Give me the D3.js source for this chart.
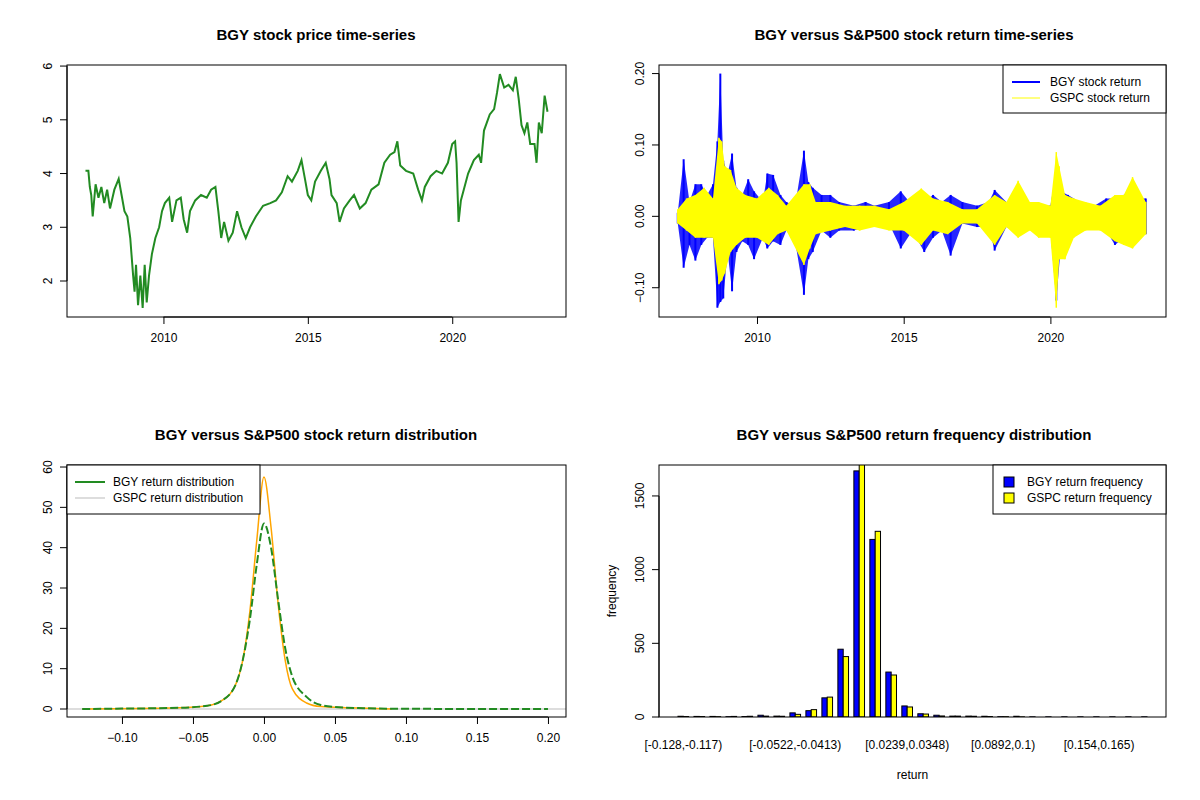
<!DOCTYPE html>
<html><head><meta charset="utf-8">
<script src="https://cdn.jsdelivr.net/npm/d3@7"></script>
<style>body{margin:0;background:#fff}svg text{font-family:"Liberation Sans",Arial,sans-serif}</style>
</head><body><svg id="c" width="1200" height="800"></svg>
<script>
// price series [year, price]
const priceData = [[2007.3,4.05],[2007.4,4.05],[2007.45,3.75],[2007.5,3.6],[2007.55,3.2],[2007.65,3.8],[2007.75,3.55],[2007.85,3.75],[2007.95,3.45],[2008.05,3.7],[2008.15,3.35],[2008.3,3.7],[2008.45,3.9],[2008.55,3.6],[2008.65,3.3],[2008.75,3.2],[2008.85,2.8],[2008.95,2.1],[2009.0,1.8],[2009.05,2.3],[2009.12,1.55],[2009.2,2.1],[2009.28,1.5],[2009.35,2.3],[2009.42,1.6],[2009.5,2.1],[2009.6,2.5],[2009.72,2.8],[2009.85,3.0],[2009.95,3.3],[2010.05,3.45],[2010.2,3.55],[2010.3,3.1],[2010.45,3.5],[2010.6,3.55],[2010.7,3.15],[2010.82,2.9],[2010.92,3.3],[2011.1,3.5],[2011.3,3.6],[2011.5,3.55],[2011.65,3.7],[2011.8,3.75],[2011.9,3.3],[2012.0,2.8],[2012.1,3.1],[2012.25,2.75],[2012.4,2.9],[2012.55,3.3],[2012.7,3.0],[2012.85,2.8],[2013.0,3.0],[2013.2,3.2],[2013.45,3.4],[2013.7,3.45],[2013.9,3.5],[2014.1,3.65],[2014.3,3.95],[2014.45,3.85],[2014.65,4.05],[2014.78,4.25],[2014.9,3.9],[2015.0,3.6],[2015.12,3.5],[2015.25,3.85],[2015.45,4.05],[2015.62,4.2],[2015.75,3.9],[2015.82,3.6],[2016.0,3.45],[2016.1,3.1],[2016.25,3.35],[2016.45,3.5],[2016.6,3.6],[2016.8,3.35],[2017.0,3.45],[2017.2,3.7],[2017.45,3.8],[2017.65,4.2],[2017.85,4.35],[2018.0,4.4],[2018.1,4.6],[2018.2,4.15],[2018.4,4.05],[2018.65,4.0],[2018.82,3.7],[2018.95,3.5],[2019.05,3.75],[2019.25,3.95],[2019.45,4.05],[2019.65,4.0],[2019.85,4.2],[2020.0,4.55],[2020.1,4.6],[2020.15,4.2],[2020.22,3.1],[2020.3,3.5],[2020.4,3.7],[2020.55,4.0],[2020.75,4.25],[2020.92,4.35],[2021.0,4.2],[2021.1,4.8],[2021.3,5.1],[2021.45,5.2],[2021.55,5.5],[2021.65,5.85],[2021.8,5.6],[2021.95,5.65],[2022.1,5.55],[2022.2,5.8],[2022.3,5.4],[2022.4,4.9],[2022.5,4.75],[2022.6,4.95],[2022.7,4.55],[2022.85,4.55],[2022.92,4.2],[2023.0,4.95],[2023.1,4.75],[2023.2,5.45],[2023.3,5.15]];
// return envelopes [year, high, low]
const bgyReturn = [[2007.3,0.005,-0.01],[2007.5,0.08,-0.072],[2007.7,0.02,-0.04],[2007.9,0.045,-0.062],[2008.1,0.045,-0.04],[2008.3,0.03,-0.03],[2008.5,0.045,-0.03],[2008.65,0.105,-0.128],[2008.75,0.2,-0.12],[2008.85,0.078,-0.115],[2009.0,0.06,-0.05],[2009.15,0.088,-0.105],[2009.3,0.04,-0.05],[2009.5,0.03,-0.035],[2009.7,0.052,-0.04],[2009.9,0.035,-0.06],[2010.2,0.02,-0.03],[2010.35,0.06,-0.045],[2010.55,0.058,-0.035],[2010.8,0.03,-0.04],[2011.0,0.02,-0.02],[2011.3,0.015,-0.035],[2011.6,0.092,-0.11],[2011.75,0.048,-0.06],[2011.9,0.04,-0.05],[2012.2,0.03,-0.02],[2012.5,0.03,-0.03],[2012.8,0.02,-0.02],[2013.3,0.015,-0.02],[2013.7,0.02,-0.015],[2014.0,0.015,-0.01],[2014.5,0.02,-0.01],[2014.9,0.035,-0.045],[2015.3,0.015,-0.02],[2015.7,0.02,-0.05],[2016.0,0.03,-0.03],[2016.3,0.02,-0.02],[2016.6,0.03,-0.055],[2017.0,0.02,-0.01],[2017.5,0.015,-0.015],[2017.9,0.02,-0.015],[2018.1,0.037,-0.048],[2018.5,0.02,-0.015],[2018.9,0.02,-0.02],[2019.3,0.015,-0.015],[2019.7,0.015,-0.015],[2020.0,0.015,-0.02],[2020.2,0.065,-0.118],[2020.35,0.035,-0.045],[2020.6,0.03,-0.025],[2021.0,0.02,-0.015],[2021.5,0.015,-0.015],[2021.9,0.025,-0.02],[2022.2,0.025,-0.04],[2022.5,0.03,-0.03],[2022.8,0.038,-0.025],[2023.0,0.025,-0.02],[2023.25,0.025,-0.025]];
const gspcReturn = [[2007.3,0.01,-0.01],[2007.6,0.025,-0.02],[2007.9,0.03,-0.03],[2008.2,0.04,-0.03],[2008.5,0.025,-0.03],[2008.7,0.11,-0.095],[2008.8,0.105,-0.09],[2008.9,0.07,-0.08],[2009.1,0.065,-0.05],[2009.3,0.04,-0.04],[2009.6,0.03,-0.03],[2010.0,0.025,-0.03],[2010.4,0.04,-0.04],[2010.7,0.03,-0.025],[2011.0,0.015,-0.02],[2011.6,0.045,-0.068],[2011.8,0.045,-0.045],[2012.0,0.02,-0.025],[2012.5,0.02,-0.02],[2013.0,0.015,-0.015],[2013.5,0.015,-0.02],[2014.0,0.015,-0.015],[2014.5,0.01,-0.02],[2015.0,0.02,-0.02],[2015.6,0.039,-0.04],[2016.0,0.025,-0.02],[2016.5,0.02,-0.025],[2017.0,0.01,-0.01],[2017.5,0.01,-0.01],[2018.1,0.03,-0.04],[2018.5,0.02,-0.015],[2018.9,0.05,-0.03],[2019.3,0.02,-0.02],[2019.6,0.02,-0.03],[2020.0,0.015,-0.03],[2020.2,0.09,-0.128],[2020.3,0.07,-0.06],[2020.5,0.03,-0.06],[2020.8,0.025,-0.03],[2021.2,0.02,-0.02],[2021.7,0.015,-0.02],[2022.2,0.03,-0.035],[2022.5,0.03,-0.04],[2022.8,0.055,-0.045],[2023.25,0.02,-0.025]];
// densities [return, density]
const bgyDensity = [[-0.128,0],[-0.1,0.1],[-0.06,0.3],[-0.04,0.8],[-0.03,2],[-0.02,6],[-0.015,12],[-0.01,22],[-0.005,36],[0,46],[0.005,40],[0.01,27],[0.015,15],[0.02,8],[0.03,3],[0.04,1],[0.05,0.5],[0.07,0.2],[0.1,0.05],[0.2,0]];
const gspcDensity = [[-0.128,0],[-0.06,0.3],[-0.04,0.8],[-0.03,2],[-0.02,6],[-0.015,12],[-0.01,24],[-0.005,42],[0,57.5],[0.005,45],[0.01,26],[0.015,12],[0.02,5],[0.03,1.5],[0.04,0.6],[0.06,0.3],[0.09,0]];
// histogram
const binLabels = ["[-0.128,-0.117)","[-0.117,-0.106)","[-0.106,-0.0951)","[-0.0951,-0.0842)","[-0.0842,-0.0733)","[-0.0733,-0.0624)","[-0.0624,-0.0522)","[-0.0522,-0.0413)","[-0.0413,-0.0304)","[-0.0304,-0.0195)","[-0.0195,-0.00859)","[-0.00859,0.00232)","[0.00232,0.0132)","[0.0132,0.0239)","[0.0239,0.0348)","[0.0348,0.0457)","[0.0457,0.0566)","[0.0566,0.0675)","[0.0675,0.0784)","[0.0784,0.0892)","[0.0892,0.1)","[0.1,0.111)","[0.111,0.122)","[0.122,0.133)","[0.133,0.143)","[0.143,0.154)","[0.154,0.165)","[0.165,0.176)","[0.176,0.187)","[0.187,0.198]"];
const bgyFreq = [5,4,4,2,3,12,6,28,43,130,460,1670,1205,305,75,22,12,6,6,5,2,5,1,1,1,1,1,1,1,1];
const gspcFreq = [3,3,2,4,5,6,5,18,50,135,410,1750,1260,285,68,20,7,6,5,3,2,1,0,0,0,0,0,0,0,0];
const shownLabels = [0,7,14,20,26];

const svg = d3.select("#c");
const F = "Liberation Sans";
function box(x0,x1,y0,y1){svg.append("rect").attr("x",x0).attr("y",y0).attr("width",x1-x0).attr("height",y1-y0).attr("fill","none").attr("stroke","#000");}
function title(t,x,y){svg.append("text").attr("x",x).attr("y",y).attr("text-anchor","middle").attr("font-weight","bold").attr("font-size",15).text(t);}
function xAxis(scale,ticks,y,fmt){const g=svg.append("g").attr("transform",`translate(0,${y})`).call(d3.axisBottom(scale).tickValues(ticks).tickFormat(fmt).tickSizeOuter(0).tickSize(7).tickPadding(9));g.select(".domain").attr("d",`M${scale(ticks[0])},0H${scale(ticks[ticks.length-1])}`);g.selectAll("text").attr("font-size",12).attr("font-family",F);}
function yAxis(scale,ticks,x,fmt){const g=svg.append("g").attr("transform",`translate(${x},0)`).call(d3.axisLeft(scale).tickValues(ticks).tickFormat(fmt).tickSizeOuter(0).tickSize(7));g.select(".domain").attr("d",`M0,${scale(ticks[0])}V${scale(ticks[ticks.length-1])}`);g.selectAll("text").attr("font-size",12).attr("font-family",F).attr("text-anchor","middle").attr("transform",d=>`translate(-16,${scale(d)}) rotate(-90) translate(0,${-scale(d)})`).attr("x",0).attr("dy","0.35em");
  g.selectAll(".tick text").attr("transform",null).each(function(){const t=d3.select(this);t.attr("transform","rotate(-90)").attr("x",0).attr("y",-16);});
  g.selectAll(".tick").each(function(d){});
}
// custom y tick label writer (R style rotated)
function yLabels(scale,ticks,x,fmt){
  const g=svg.append("g");
  g.append("line").attr("x1",x).attr("x2",x).attr("y1",scale(ticks[0])).attr("y2",scale(ticks[ticks.length-1])).attr("stroke","#000");
  ticks.forEach(t=>{g.append("line").attr("x1",x).attr("x2",x-7).attr("y1",scale(t)).attr("y2",scale(t)).attr("stroke","#000");
    g.append("text").attr("transform",`translate(${x-15},${scale(t)}) rotate(-90)`).attr("text-anchor","middle").attr("font-size",12).text(fmt(t));});
}
const yearFmt=d3.format("d");

// Panel 1
{const L=67,R=566,T=65,B=317;
 const x=d3.scaleLinear().domain([2006.66,2023.94]).range([L,R]);
 const y=d3.scaleLinear().domain([1.33,6.02]).range([B,T]);
 svg.append("path").datum(priceData).attr("d",d3.line().x(d=>x(d[0])).y(d=>y(d[1]))).attr("fill","none").attr("stroke","#228B22").attr("stroke-width",2);
 box(L,R,T,B); xAxis(x,[2010,2015,2020],B,yearFmt); yLabels(y,[2,3,4,5,6],L,d3.format("d"));
 title("BGY stock price time-series",316,40);}

// Panel 2
{const L=659,R=1166,T=65,B=317;
 const x=d3.scaleLinear().domain([2006.66,2023.94]).range([L,R]);
 const y=d3.scaleLinear().domain([-0.141,0.212]).range([B,T]);
 const area=d3.area().x(d=>x(d[0])).y0(d=>y(d[2])).y1(d=>y(d[1]));
 const spikes=(data,col,w)=>svg.append("g").selectAll("line").data(data).join("line").attr("x1",d=>x(d[0])).attr("x2",d=>x(d[0])).attr("y1",d=>y(d[1])).attr("y2",d=>y(d[2])).attr("stroke",col).attr("stroke-width",w);
 svg.append("path").datum(bgyReturn).attr("d",area).attr("fill","blue").attr("opacity",0.85);
 spikes(bgyReturn,"blue",2);
 svg.append("path").datum(gspcReturn).attr("d",area).attr("fill","yellow");
 spikes(gspcReturn,"yellow",1.5);
 box(L,R,T,B); xAxis(x,[2010,2015,2020],B,yearFmt); yLabels(y,[-0.1,0,0.1,0.2],L,d3.format(".2f"));
 title("BGY versus S&P500 stock return time-series",914,40);
 svg.append("rect").attr("x",1003).attr("y",65).attr("width",163).attr("height",48).attr("fill","#fff").attr("stroke","#000");
 svg.append("line").attr("x1",1012).attr("x2",1040).attr("y1",82).attr("y2",82).attr("stroke","blue").attr("stroke-width",2);
 svg.append("line").attr("x1",1012).attr("x2",1040).attr("y1",98).attr("y2",98).attr("stroke","yellow");
 svg.append("text").attr("x",1050).attr("y",86).attr("font-size",12).text("BGY stock return");
 svg.append("text").attr("x",1050).attr("y",102).attr("font-size",12).text("GSPC stock return");}

// Panel 3
{const L=67,R=566,T=465,B=717;
 const x=d3.scaleLinear().domain([-0.1387,0.2127]).range([L,R]);
 const y=d3.scaleLinear().domain([-1.98,60.5]).range([B,T]);
 const line=d3.line().x(d=>x(d[0])).y(d=>y(d[1])).curve(d3.curveMonotoneX);
 svg.append("line").attr("x1",L).attr("x2",R).attr("y1",y(0)).attr("y2",y(0)).attr("stroke","#bbb");
 svg.append("path").datum(gspcDensity).attr("d",line).attr("fill","none").attr("stroke","orange").attr("stroke-width",1.5);
 svg.append("path").datum(bgyDensity).attr("d",line).attr("fill","none").attr("stroke","#228B22").attr("stroke-width",2).attr("stroke-dasharray","8,3");
 box(L,R,T,B); xAxis(x,[-0.1,-0.05,0,0.05,0.1,0.15,0.2],B,d3.format(".2f")); yLabels(y,[0,10,20,30,40,50,60],L,d3.format("d"));
 title("BGY versus S&P500 stock return distribution",316,440);
 svg.append("rect").attr("x",67).attr("y",465).attr("width",193).attr("height",49).attr("fill","#fff").attr("stroke","#000");
 svg.append("line").attr("x1",75).attr("x2",105).attr("y1",482).attr("y2",482).attr("stroke","#228B22").attr("stroke-width",2);
 svg.append("line").attr("x1",75).attr("x2",105).attr("y1",498).attr("y2",498).attr("stroke","#bbb");
 svg.append("text").attr("x",113).attr("y",486).attr("font-size",12).text("BGY return distribution");
 svg.append("text").attr("x",113).attr("y",502).attr("font-size",12).text("GSPC return distribution");}

// Panel 4
{const L=659,R=1166,T=465,B=717;
 const n=binLabels.length;
 const x=d3.scaleLinear().domain([1-3.56,3*n+3.56-1]).range([L,R]);
 const y=d3.scaleLinear().domain([0,1710]).range([B,T]);
 const clip=svg.append("clipPath").attr("id","cp4").append("rect").attr("x",L).attr("y",T).attr("width",R-L).attr("height",B-T);
 const g=svg.append("g").attr("clip-path","url(#cp4)");
 const bars=(vals,off,col)=>g.selectAll(null).data(vals).join("rect").attr("x",(d,i)=>x(3*i+off)).attr("width",x(1)-x(0)).attr("y",d=>y(d)).attr("height",d=>y(0)-y(d)).attr("fill",col).attr("stroke","#000");
 bars(bgyFreq,1,"blue"); bars(gspcFreq,2,"yellow");
 box(L,R,T,B); yLabels(y,[0,500,1000,1500],L,d3.format("d"));
 shownLabels.forEach(i=>svg.append("text").attr("x",x(3*i+2)).attr("y",749).attr("text-anchor","middle").attr("font-size",12).text(binLabels[i]));
 svg.append("text").attr("x",(L+R)/2).attr("y",779).attr("text-anchor","middle").attr("font-size",12).text("return");
 svg.append("text").attr("transform",`translate(616,${(T+B)/2}) rotate(-90)`).attr("text-anchor","middle").attr("font-size",12).text("frequency");
 title("BGY versus S&P500 return frequency distribution",914,440);
 svg.append("rect").attr("x",993).attr("y",465).attr("width",173).attr("height",49).attr("fill","#fff").attr("stroke","#000");
 svg.append("rect").attr("x",1004).attr("y",477).attr("width",10).attr("height",10).attr("fill","blue").attr("stroke","#000");
 svg.append("rect").attr("x",1004).attr("y",493).attr("width",10).attr("height",10).attr("fill","yellow").attr("stroke","#000");
 svg.append("text").attr("x",1027).attr("y",486).attr("font-size",12).text("BGY return frequency");
 svg.append("text").attr("x",1027).attr("y",502).attr("font-size",12).text("GSPC return frequency");}
</script></body></html>
